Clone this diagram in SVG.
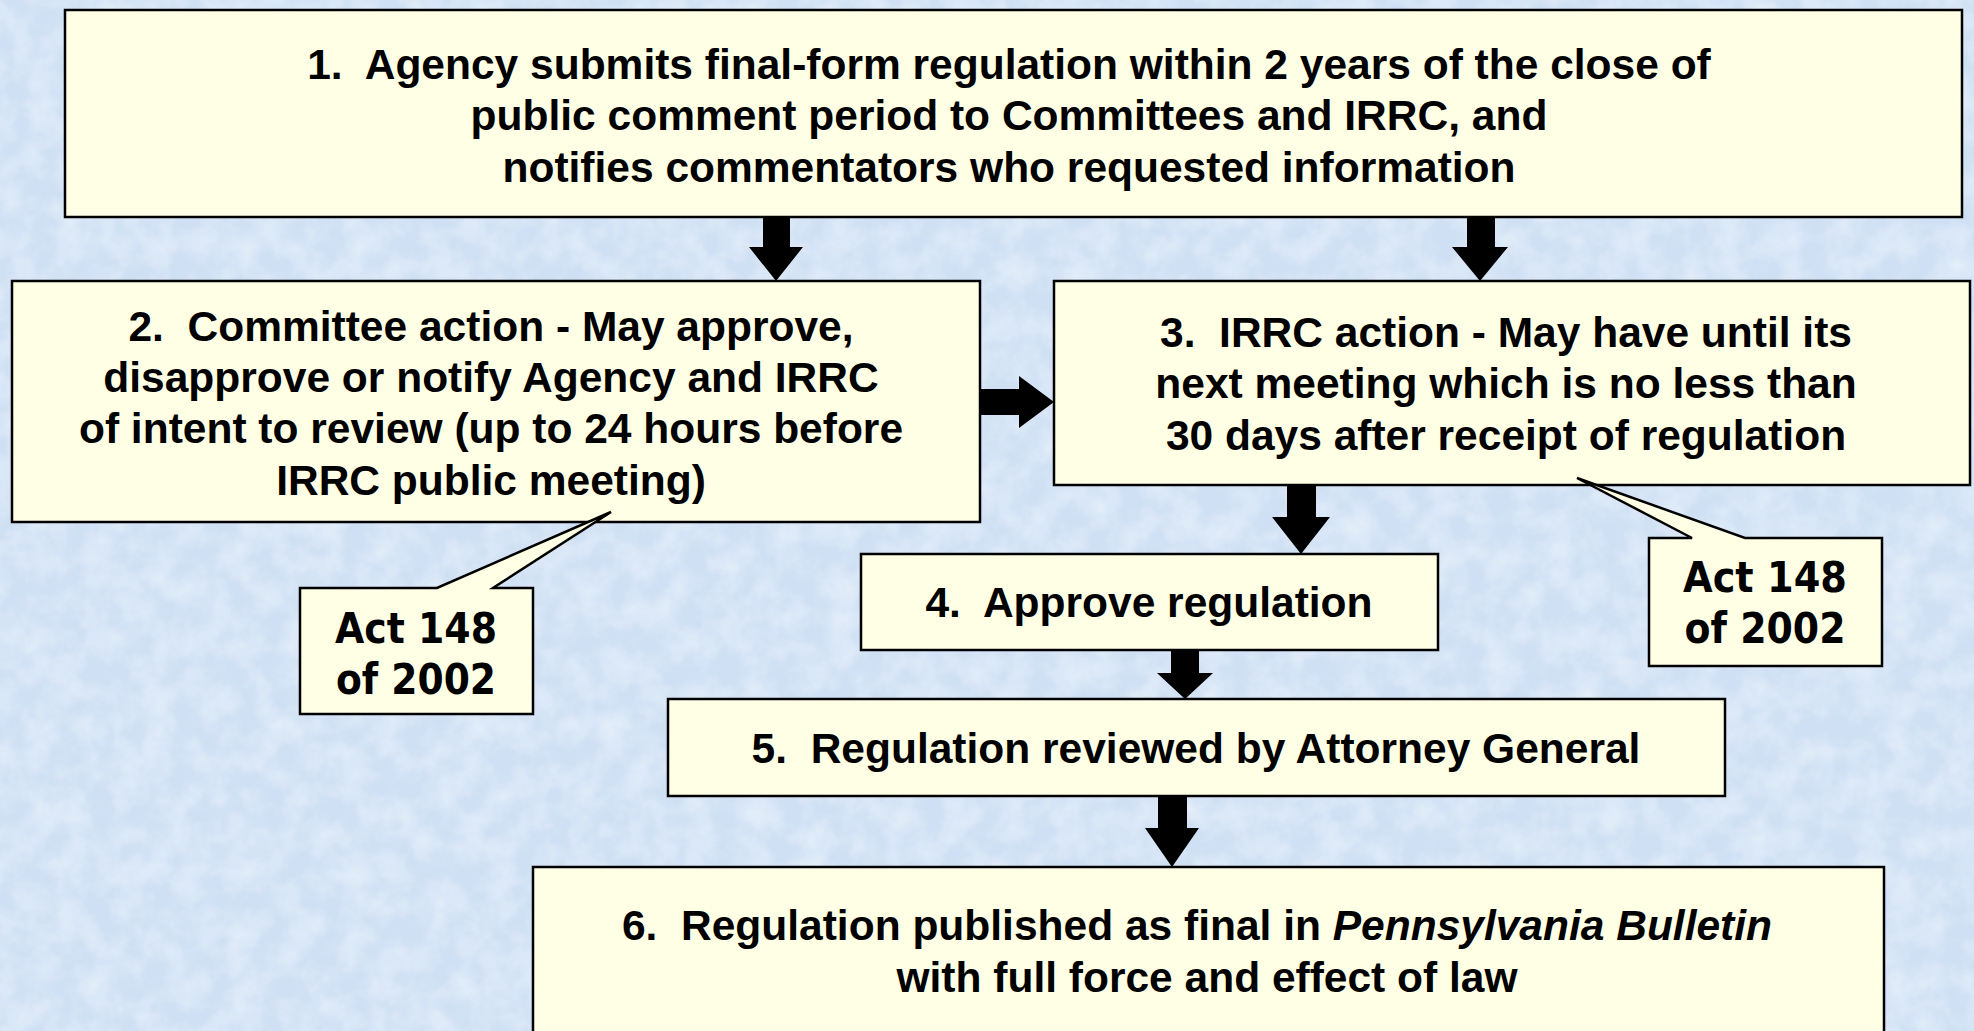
<svg xmlns="http://www.w3.org/2000/svg" width="1974" height="1031" viewBox="0 0 1974 1031">
<style>
.box{fill:#ffffe6;stroke:#000;stroke-width:2.5}
.t{font-family:"Liberation Sans",Arial,sans-serif;font-weight:bold;font-size:42.5px;fill:#000;text-anchor:middle;white-space:pre}
.a{font-family:"DejaVu Sans",Tahoma,sans-serif;font-weight:bold;font-size:43px;fill:#000;text-anchor:middle}
.arr{fill:#000}
</style>
<defs>
<filter id="tex" x="0" y="0" width="100%" height="100%">
<feTurbulence type="fractalNoise" baseFrequency="0.035" numOctaves="4" seed="7" result="n"/>
<feColorMatrix in="n" type="matrix" values="0 0 0 0 1  0 0 0 0 1  0 0 0 0 1  0 0 0 -1.6 1.1" />
</filter>
</defs>
<rect x="0" y="0" width="1974" height="1031" fill="#cfe0f4"/>
<rect x="0" y="0" width="1974" height="1031" filter="url(#tex)" opacity="0.45"/>

<g id="connectors">
<polygon class="arr" points="763,218 790,218 790,247 803,247 776,281 749,247 763,247"/>
<polygon class="arr" points="1467,218 1495,218 1495,247 1508,247 1480,281 1452,247 1467,247"/>
<polygon class="arr" points="981,389 1019,389 1019,376 1054,402 1019,428 1019,415 981,415"/>
<polygon class="arr" points="1287,486 1316,486 1316,517 1330,517 1301,554 1272,517 1287,517"/>
<polygon class="arr" points="1171,650 1199,650 1199,673 1213,673 1185,699 1157,673 1171,673"/>
<polygon class="arr" points="1158,796 1187,796 1187,828 1199,828 1172,867 1145,828 1158,828"/>
</g>

<g id="node1">
<rect class="box" x="65" y="10" width="1897" height="207"/>
<text class="t" x="1009" y="79">1.  Agency submits final-form regulation within 2 years of the close of</text>
<text class="t" x="1009" y="130">public comment period to Committees and IRRC, and</text>
<text class="t" x="1009" y="182">notifies commentators who requested information</text>
</g>

<g id="node2">
<rect class="box" x="12" y="281" width="968" height="241"/>
<text class="t" x="491" y="341">2.  Committee action - May approve,</text>
<text class="t" x="491" y="392">disapprove or notify Agency and IRRC</text>
<text class="t" x="491" y="443">of intent to review (up to 24 hours before</text>
<text class="t" x="491" y="495">IRRC public meeting)</text>
</g>

<g id="node3">
<rect class="box" x="1054" y="281" width="916" height="204"/>
<text class="t" x="1506" y="347">3.  IRRC action - May have until its</text>
<text class="t" x="1506" y="398">next meeting which is no less than</text>
<text class="t" x="1506" y="450">30 days after receipt of regulation</text>
</g>

<g id="node4">
<rect class="box" x="861" y="554" width="577" height="96"/>
<text class="t" x="1149" y="617">4.  Approve regulation</text>
</g>

<g id="node5">
<rect class="box" x="668" y="699" width="1057" height="97"/>
<text class="t" x="1196" y="763">5.  Regulation reviewed by Attorney General</text>
</g>

<g id="node6">
<rect class="box" x="533" y="867" width="1351" height="180"/>
<text class="t" x="1197" y="940">6.  Regulation published as final in <tspan font-style="italic">Pennsylvania Bulletin</tspan></text>
<text class="t" x="1207" y="992">with full force and effect of law</text>
</g>

<g id="callout-left">
<path class="box" d="M300,588 L437,588 L611,512 L493,588 L533,588 L533,714 L300,714 Z"/>
<text class="a" x="416" y="643" textLength="162" lengthAdjust="spacingAndGlyphs">Act 148</text>
<text class="a" x="416" y="694" textLength="160" lengthAdjust="spacingAndGlyphs">of 2002</text>
</g>

<g id="callout-right">
<path class="box" d="M1649,538 L1692,538 L1577,478 L1745,538 L1882,538 L1882,666 L1649,666 Z"/>
<text class="a" x="1765" y="592" textLength="164" lengthAdjust="spacingAndGlyphs">Act 148</text>
<text class="a" x="1765" y="643" textLength="161" lengthAdjust="spacingAndGlyphs">of 2002</text>
</g>
</svg>
